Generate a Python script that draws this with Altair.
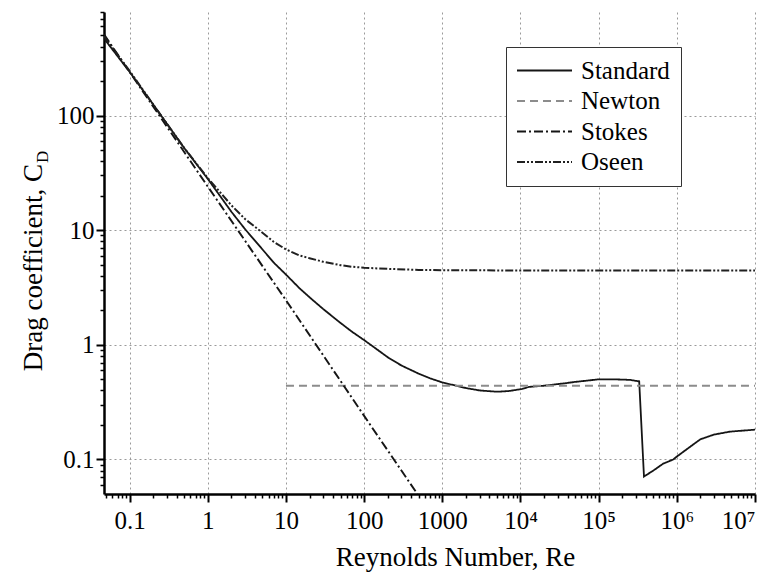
import json
import altair as alt
import pandas as pd

# ---------------- data ----------------
series_order = ["Standard", "Newton", "Stokes", "Oseen"]

std_re = [0.047, 0.1, 0.2, 0.5, 1, 2, 3, 5, 7, 10, 15, 20, 30, 50, 70, 100, 150,
          200, 300, 500, 700, 1000, 1500, 2000, 3000, 5000, 7000, 1e4, 1.3e4,
          2e4, 3.5e4, 5e4, 1e5, 1.6e5, 2.5e5, 3.3e5, 3.8e5, 5e5, 6.7e5, 9e5,
          1e6, 1.5e6, 2e6, 3e6, 4.8e6, 1e7]
std_cd = [470, 240, 125, 52, 28, 14.5, 10.2, 6.8, 5.2, 4.1, 3.1, 2.6, 2.05, 1.55,
          1.3, 1.1, 0.9, 0.78, 0.66, 0.56, 0.51, 0.47, 0.44, 0.42, 0.40, 0.39,
          0.395, 0.41, 0.43, 0.44, 0.46, 0.475, 0.50, 0.50, 0.495, 0.48, 0.071,
          0.08, 0.092, 0.1, 0.106, 0.13, 0.15, 0.165, 0.175, 0.182]

new_re = [10, 1e7]
new_cd = [0.44, 0.44]

sto_re = [0.047, 1, 10, 100, 480]
sto_cd = [510, 24, 2.45, 0.24, 0.05]

ose_re = [0.047, 0.1, 0.2, 0.5, 1, 2, 3, 5, 7, 10, 15, 20, 30, 50, 70, 100, 200,
          500, 1000, 1e4, 1e7]
ose_cd = [490, 245, 125, 52, 28.5, 16.5, 12.5, 9.5, 7.9, 6.8, 6.0, 5.7, 5.3,
          4.95, 4.8, 4.7, 4.6, 4.5, 4.48, 4.45, 4.45]

x_major = [0.1, 1, 10, 100, 1000, 1e4, 1e5, 1e6, 1e7]
x_labels = ["0.1", "1", "10", "100", "1000", "10⁴", "10⁵", "10⁶", "10⁷"]
y_major = [0.1, 1, 10, 100]
y_labels = ["0.1", "1", "10", "100"]
x_minor = [0.05, 0.06, 0.07, 0.08, 0.09] + [m * 10 ** e for e in range(-1, 7) for m in range(2, 10)]
y_minor = [0.06, 0.07, 0.08, 0.09] + [m * 10 ** e for e in range(-1, 2) for m in range(2, 10)] + \
          [200, 300, 400, 500, 600, 700, 800]

# ---------------- styles ----------------
FONT = "Liberation Serif"
colors = ["#151515", "#8c8c8c", "#151515", "#202020"]
dashes = [[1, 0], [8, 5], [9, 3, 2, 3], [8, 2, 2, 2, 2, 2]]
widths = [1.8, 2.0, 1.5, 1.5]

frames = []
for name, xs, ys in [("Standard", std_re, std_cd), ("Newton", new_re, new_cd),
                     ("Stokes", sto_re, sto_cd), ("Oseen", ose_re, ose_cd)]:
    frames.append(pd.DataFrame({"series": name, "Re": xs, "Cd": ys}))
df = pd.concat(frames, ignore_index=True)

x_scale = alt.Scale(type="log", domain=[0.047, 1e7], nice=False)
y_scale = alt.Scale(type="log", domain=[0.05, 800], nice=False)

x_expr = f"{json.dumps(x_labels, ensure_ascii=False)}[indexof({json.dumps(x_major)}, datum.value)]"
y_expr = f"{json.dumps(y_labels)}[indexof({json.dumps(y_major)}, datum.value)]"

legend = alt.Legend(
    title=None, orient="none", legendX=402, legendY=35,
    symbolType="M-2.5,0H2.5", symbolSize=484, symbolStrokeWidth=1.8,
    symbolOffset=15, labelOffset=24,
    labelFont=FONT, labelFontSize=25, labelColor="black",
    rowPadding=4.5, padding=11, strokeColor="#333333", fillColor="white",
)

lines = alt.Chart(df).mark_line(clip=True).encode(
    x=alt.X("Re:Q", scale=x_scale, axis=alt.Axis(
        values=x_major, labelExpr=x_expr, orient="bottom",
        grid=True, gridDash=[2, 3], gridColor="#9a9a9a", gridWidth=1,
        tickSize=8, tickWidth=2, tickColor="black",
        domainColor="black", domainWidth=2.5,
        labelFont=FONT, labelFontSize=25, labelColor="black", labelPadding=6,
        title="Reynolds Number, Re", titleFont=FONT, titleFontSize=27,
        titleFontWeight="normal", titleColor="black",
        titleX=351, titleY=71, titleBaseline="alphabetic", titleAlign="center")),
    y=alt.Y("Cd:Q", scale=y_scale, axis=alt.Axis(
        values=y_major, labelExpr=y_expr, orient="left",
        grid=True, gridDash=[2, 3], gridColor="#9a9a9a", gridWidth=1,
        tickSize=8, tickWidth=2, tickColor="black",
        domainColor="black", domainWidth=2.5,
        labelFont=FONT, labelFontSize=25, labelColor="black", labelPadding=2,
        title=None)),
    color=alt.Color("series:N", scale=alt.Scale(domain=series_order, range=colors), legend=legend),
    strokeDash=alt.StrokeDash("series:N", scale=alt.Scale(domain=series_order, range=dashes), legend=legend),
    strokeWidth=alt.StrokeWidth("series:N", scale=alt.Scale(domain=series_order, range=widths), legend=None),
)

minor = alt.Chart(df).mark_point(opacity=0).encode(
    x=alt.X("Re:Q", scale=x_scale, axis=alt.Axis(
        values=x_minor, labels=False, grid=False, domain=False, orient="bottom",
        tickSize=4, tickWidth=1.5, tickColor="black", title=None)),
    y=alt.Y("Cd:Q", scale=y_scale, axis=alt.Axis(
        values=y_minor, labels=False, grid=False, domain=False, orient="left",
        tickSize=4, tickWidth=1.5, tickColor="black", title=None)),
)

ytitle = alt.Chart(pd.DataFrame({"t": ["Drag coefficient, C"]})).mark_text(
    angle=270, align="right", baseline="alphabetic", font=FONT, fontSize=27, color="black"
).encode(text="t:N", x=alt.value(-62), y=alt.value(152))

ysub = alt.Chart(pd.DataFrame({"t": ["D"]})).mark_text(
    angle=270, align="left", baseline="alphabetic", font=FONT, fontSize=17, color="black"
).encode(text="t:N", x=alt.value(-56), y=alt.value(151))

chart = alt.layer(lines, minor, ytitle, ysub).resolve_axis(
    x="independent", y="independent"
).properties(
    width=651, height=482,
    autosize=alt.AutoSizeParams(type="none"),
    padding={"left": 96, "top": 4, "right": 12, "bottom": 81},
    background="white",
).configure_view(stroke=None)

chart.save("out.html", embed_options={"renderer": "svg", "actions": False})
